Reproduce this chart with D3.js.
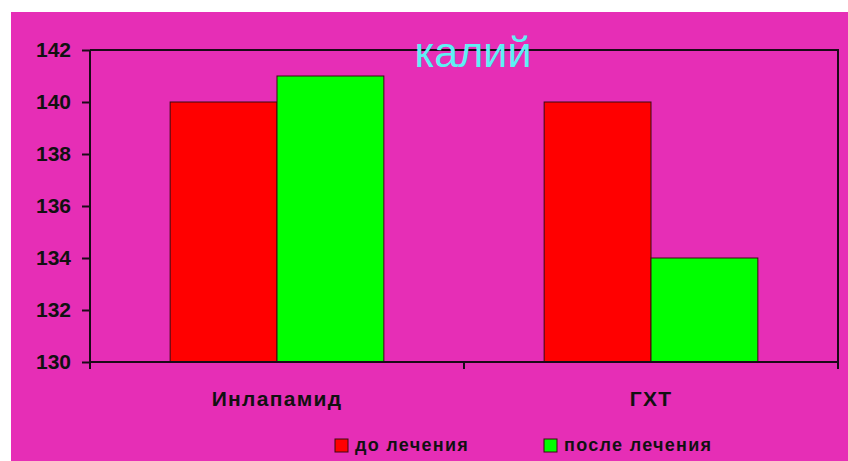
<!DOCTYPE html>
<html>
<head>
<meta charset="utf-8">
<script src="https://cdn.jsdelivr.net/npm/d3@7/dist/d3.min.js"></script>
<style>
  html, body { margin: 0; padding: 0; background: #ffffff; }
  svg { display: block; }
</style>
</head>
<body>
<svg id="chart" width="848" height="461"></svg>
<script>
// Potassium level before and after treatment
const categories = ["Инлапамид", "ГХТ"];
const seriesNames = ["до лечения", "после лечения"];
const beforeValues = [140, 140];
const afterValues = [141, 134];
const yTicks = [130, 132, 134, 136, 138, 140, 142];
const seriesColors = ["#ff0000", "#00ff00"];
const titleText = "калий";

const W = 848, H = 461;
const plot = { left: 90, top: 50, right: 838, bottom: 362 };
const font = "'Liberation Sans', Arial, sans-serif";

const svg = d3.select("#chart");

// panel background
svg.append("rect")
  .attr("x", 11).attr("y", 12)
  .attr("width", W - 11).attr("height", H - 12)
  .attr("fill", "#e62eb6");

const x0 = d3.scaleBand()
  .domain(categories)
  .range([plot.left, plot.right])
  .paddingInner(0).paddingOuter(0);

const y = d3.scaleLinear()
  .domain([130, 142])
  .range([plot.bottom, plot.top]);

// plot frame (top and right edges)
svg.append("path")
  .attr("d", `M${plot.left},${plot.top}H${plot.right}V${plot.bottom}`)
  .attr("fill", "none")
  .attr("stroke", "#1a0a18")
  .attr("stroke-width", 2);

// bars: each group occupies 2 bar widths out of 3.5 (gap width 150%)
const barW = x0.bandwidth() / 3.5;
const rows = categories.map((c, i) => ({ cat: c, vals: [beforeValues[i], afterValues[i]] }));

const groups = svg.append("g").selectAll("g")
  .data(rows).join("g")
  .attr("transform", d => `translate(${x0(d.cat) + x0.bandwidth() / 2 - barW},0)`);

groups.selectAll("rect")
  .data(d => d.vals.map((v, k) => ({ v, k })))
  .join("rect")
  .attr("x", d => d.k * barW)
  .attr("y", d => y(d.v))
  .attr("width", barW)
  .attr("height", d => y(130) - y(d.v))
  .attr("fill", d => seriesColors[d.k])
  .attr("stroke", "#3a0a10")
  .attr("stroke-width", 1);

// y axis
const yAxis = svg.append("g")
  .attr("transform", `translate(${plot.left},0)`)
  .call(d3.axisLeft(y).tickValues(yTicks).tickSize(8).tickPadding(11).tickSizeOuter(0));
yAxis.select(".domain").attr("d", `M0,${plot.top}V${plot.bottom + 7}`)
  .attr("stroke", "#1a0a18").attr("stroke-width", 2);
yAxis.selectAll(".tick line").attr("stroke", "#1a0a18").attr("stroke-width", 2);
yAxis.selectAll(".tick text")
  .attr("fill", "#111")
  .style("font-family", font)
  .style("font-size", "21px")
  .style("font-weight", "bold");

// x axis
const xAxis = svg.append("g")
  .attr("transform", `translate(0,${plot.bottom})`);
xAxis.append("path")
  .attr("d", `M${plot.left},0H${plot.right}`)
  .attr("stroke", "#1a0a18").attr("stroke-width", 2);
const xTickPos = [plot.left, x0(categories[1]), plot.right];
xAxis.selectAll("line.xt")
  .data(xTickPos).join("line")
  .attr("class", "xt")
  .attr("x1", d => d).attr("x2", d => d)
  .attr("y1", 0).attr("y2", 7)
  .attr("stroke", "#1a0a18").attr("stroke-width", 2);
xAxis.selectAll("text.xl")
  .data(categories).join("text")
  .attr("class", "xl")
  .attr("x", d => x0(d) + x0.bandwidth() / 2)
  .attr("y", 44)
  .attr("text-anchor", "middle")
  .attr("fill", "#111")
  .style("font-family", font)
  .style("font-size", "21px")
  .style("font-weight", "bold")
  .style("letter-spacing", "1.3px")
  .text(d => d);

// title
svg.append("text")
  .attr("x", 473)
  .attr("y", 67)
  .attr("text-anchor", "middle")
  .attr("fill", "#5ef0f4")
  .style("font-family", font)
  .style("font-size", "43px")
  .text(titleText);

// legend
const legendX = [335, 544];
const legend = svg.append("g").selectAll("g")
  .data(seriesNames).join("g")
  .attr("transform", (d, i) => `translate(${legendX[i]},439)`);
legend.append("rect")
  .attr("width", 13).attr("height", 13)
  .attr("fill", (d, i) => seriesColors[i])
  .attr("stroke", "#3a0a10").attr("stroke-width", 1);
legend.append("text")
  .attr("x", 20).attr("y", 12)
  .attr("fill", "#111")
  .style("font-family", font)
  .style("font-size", "18px")
  .style("font-weight", "bold")
  .style("letter-spacing", "1.3px")
  .text(d => d);
</script>
</body>
</html>
